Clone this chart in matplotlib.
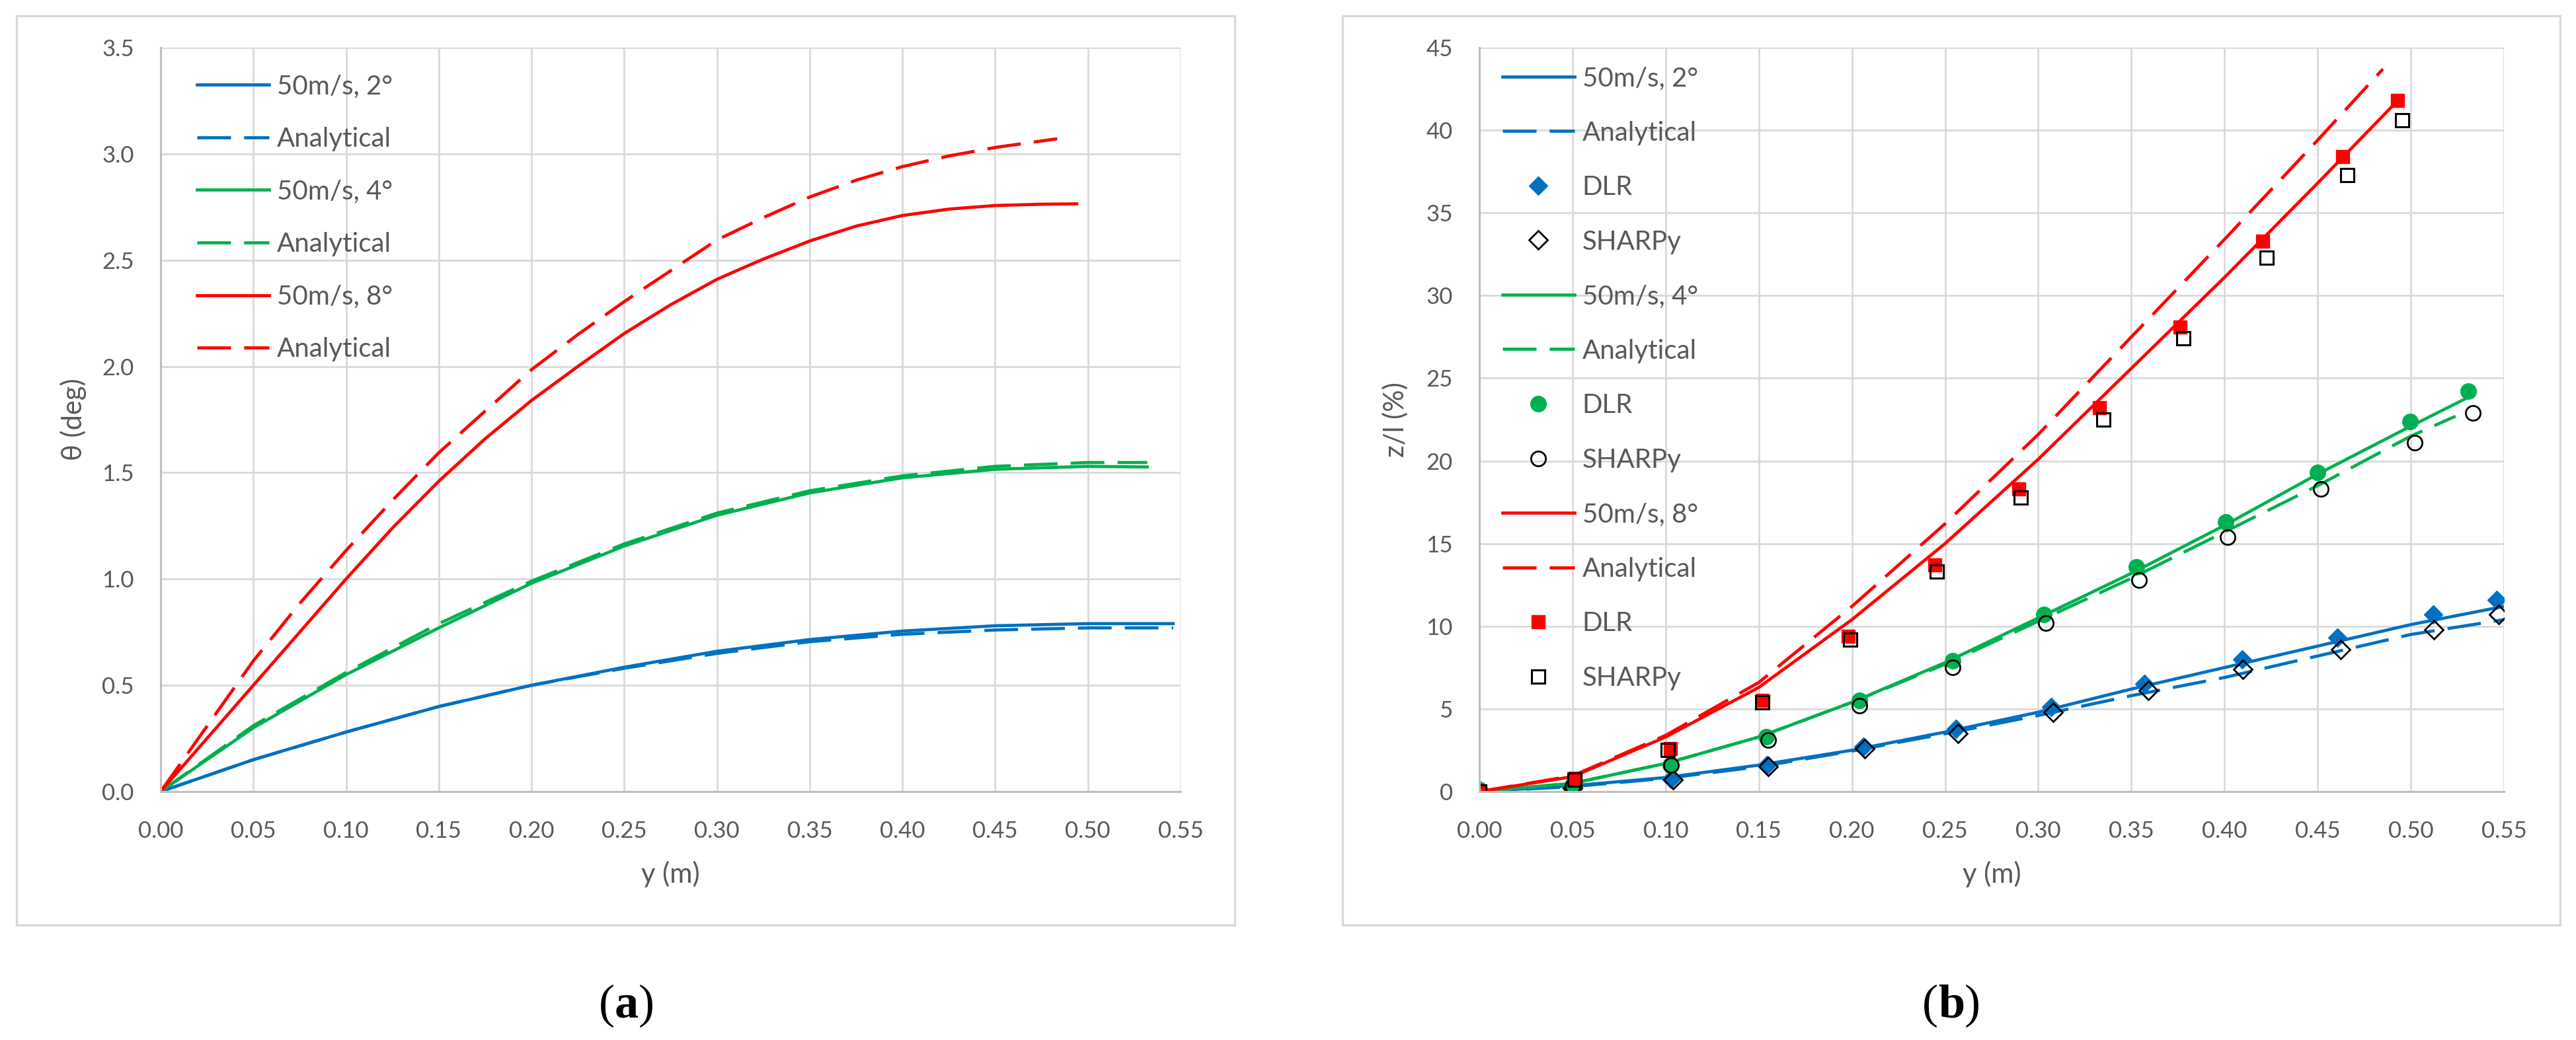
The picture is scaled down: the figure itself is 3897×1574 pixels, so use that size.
import numpy as np
import matplotlib
matplotlib.use("Agg")
import matplotlib.pyplot as plt
from matplotlib.patches import Rectangle
from matplotlib.text import Annotation

plt.rcParams['font.family'] = ['Lato', 'DejaVu Sans']

BLUE = '#0070C0'
GREEN = '#00B050'
RED = '#FF0000'
TXT = '#595959'

# (a) twist angle theta (deg) along span y (m)
y_2 = [0, 0.05, 0.10, 0.15, 0.20, 0.25, 0.30, 0.35, 0.40, 0.45, 0.50, 0.546]
th_2 = [0, 0.15, 0.28, 0.40, 0.50, 0.585, 0.66, 0.715, 0.755, 0.78, 0.79, 0.79]
th_2_an = [0, 0.15, 0.28, 0.40, 0.50, 0.58, 0.65, 0.705, 0.74, 0.76, 0.77, 0.77]

y_4 = [0, 0.05, 0.10, 0.15, 0.20, 0.25, 0.30, 0.35, 0.40, 0.45, 0.50, 0.532]
th_4 = [0, 0.30, 0.55, 0.77, 0.98, 1.155, 1.30, 1.405, 1.476, 1.516, 1.53, 1.527]
th_4_an = [0, 0.31, 0.56, 0.79, 0.99, 1.165, 1.31, 1.415, 1.485, 1.53, 1.548, 1.548]

y_8 = [0, 0.05, 0.075, 0.10, 0.125, 0.15, 0.175, 0.20, 0.225, 0.25, 0.275, 0.30,
       0.325, 0.35, 0.375, 0.40, 0.425, 0.45, 0.475, 0.494]
th_8 = [0, 0.50, 0.75, 1.0, 1.24, 1.46, 1.66, 1.84, 2.0, 2.155, 2.29, 2.41,
        2.505, 2.59, 2.66, 2.71, 2.74, 2.757, 2.763, 2.765]
y_8_an = [0, 0.05, 0.075, 0.10, 0.125, 0.15, 0.175, 0.20, 0.225, 0.25, 0.275, 0.30,
          0.325, 0.35, 0.375, 0.40, 0.425, 0.45, 0.4835]
th_8_an = [0, 0.615, 0.885, 1.134, 1.37, 1.594, 1.79, 1.985, 2.15, 2.305, 2.45, 2.595,
           2.70, 2.797, 2.876, 2.94, 2.99, 3.03, 3.071]

# (b) tip deflection z/l (%) along span y (m)
yb_2 = [0, 0.05, 0.10, 0.15, 0.20, 0.25, 0.30, 0.35, 0.40, 0.45, 0.50, 0.55]
z_2 = [0, 0.35, 0.85, 1.6, 2.5, 3.6, 4.8, 6.2, 7.5, 8.8, 10.1, 11.2]
z_2_an = [0, 0.3, 0.8, 1.5, 2.45, 3.5, 4.6, 5.8, 6.9, 8.2, 9.5, 10.4]
dlr_2_y = [0, 0.05, 0.103, 0.1545, 0.206, 0.256, 0.307, 0.357, 0.4095, 0.4605, 0.512, 0.546]
dlr_2_z = [0.1, 0.3, 0.75, 1.6, 2.7, 3.8, 5.1, 6.5, 8.0, 9.3, 10.7, 11.6]
sh_2_y = [0, 0.05, 0.104, 0.155, 0.207, 0.257, 0.308, 0.359, 0.410, 0.4625, 0.5125, 0.547]
sh_2_z = [0, 0.2, 0.7, 1.5, 2.6, 3.5, 4.8, 6.1, 7.4, 8.6, 9.8, 10.7]

yb_4 = [0, 0.05, 0.10, 0.15, 0.20, 0.25, 0.30, 0.35, 0.40, 0.45, 0.50, 0.530]
z_4 = [0, 0.5, 1.7, 3.3, 5.4, 7.8, 10.5, 13.2, 16.1, 19.2, 22.1, 23.8]
yb_4_an = [0, 0.05, 0.10, 0.15, 0.20, 0.25, 0.30, 0.35, 0.40, 0.45, 0.50, 0.524]
z_4_an = [0, 0.5, 1.7, 3.3, 5.4, 7.7, 10.3, 12.9, 15.7, 18.5, 21.5, 22.7]
dlr_4_y = [0, 0.05, 0.1025, 0.154, 0.204, 0.254, 0.303, 0.3527, 0.4006, 0.450, 0.4995, 0.531]
dlr_4_z = [0.1, 0.4, 1.6, 3.3, 5.5, 7.9, 10.7, 13.6, 16.3, 19.3, 22.4, 24.2]
sh_4_y = [0, 0.05, 0.103, 0.155, 0.204, 0.254, 0.304, 0.354, 0.4017, 0.4518, 0.502, 0.5333]
sh_4_z = [0, 0.3, 1.6, 3.1, 5.2, 7.5, 10.2, 12.8, 15.4, 18.3, 21.1, 22.9]

yb_8 = [0, 0.05, 0.10, 0.15, 0.20, 0.25, 0.30, 0.35, 0.40, 0.45, 0.493]
z_8 = [0, 0.9, 3.3, 6.3, 10.4, 15.0, 20.1, 25.6, 31.1, 36.8, 41.8]
yb_8_an = [0, 0.05, 0.10, 0.15, 0.20, 0.25, 0.30, 0.35, 0.40, 0.45, 0.485]
z_8_an = [0, 0.95, 3.4, 6.6, 11.2, 16.2, 21.6, 27.5, 33.4, 39.4, 43.7]
dlr_8_y = [0, 0.0514, 0.1025, 0.152, 0.198, 0.2445, 0.2896, 0.333, 0.376, 0.4205, 0.4635, 0.493]
dlr_8_z = [0, 0.8, 2.6, 5.5, 9.4, 13.7, 18.3, 23.2, 28.1, 33.3, 38.4, 41.8]
sh_8_y = [0, 0.051, 0.101, 0.152, 0.199, 0.2455, 0.2906, 0.335, 0.378, 0.4227, 0.466, 0.4955]
sh_8_z = [0, 0.7, 2.5, 5.4, 9.2, 13.3, 17.8, 22.5, 27.4, 32.3, 37.3, 40.6]

W, H = 3898, 1574
fig = plt.figure(figsize=(W / 100, H / 100), dpi=100)


def fx(px):
    return px / W


def fy(py):
    return 1 - py / H


# grey chart frames
for x0, x1 in [(25, 1868), (2031, 3873)]:
    fig.add_artist(Rectangle((fx(x0), fy(1400)), fx(x1) - fx(x0), fy(24) - fy(1400),
                             transform=fig.transFigure, fill=False,
                             edgecolor='#d9d9d9', lw=2.4))

ax1 = fig.add_axes([fx(243), fy(1198), fx(1786) - fx(243), fy(72) - fy(1198)])
ax2 = fig.add_axes([fx(2238), fy(1198), fx(3788) - fx(2238), fy(72) - fy(1198)])

lw = 3.4
dash = (10.8, 4.2)

ax1.plot(y_2, th_2, color=BLUE, lw=lw, label='50m/s, 2°')
ax1.plot(y_2, th_2_an, color=BLUE, lw=lw, dashes=dash, label='Analytical')
ax1.plot(y_4, th_4, color=GREEN, lw=lw, label='50m/s, 4°')
ax1.plot(y_4, th_4_an, color=GREEN, lw=lw, dashes=dash, label='Analytical')
ax1.plot(y_8, th_8, color=RED, lw=lw, label='50m/s, 8°')
ax1.plot(y_8_an, th_8_an, color=RED, lw=lw, dashes=dash, label='Analytical')

ax2.plot(yb_2, z_2, color=BLUE, lw=lw, label='50m/s, 2°')
ax2.plot(yb_2, z_2_an, color=BLUE, lw=lw, dashes=dash, label='Analytical')
ax2.plot(dlr_2_y, dlr_2_z, 'D', ms=14, color=BLUE, mec=BLUE, label='DLR')
ax2.plot(sh_2_y, sh_2_z, 'D', ms=14, mfc='none', mec='black', mew=2.0, label='SHARPy')
ax2.plot(yb_4, z_4, color=GREEN, lw=lw, label='50m/s, 4°')
ax2.plot(yb_4_an, z_4_an, color=GREEN, lw=lw, dashes=dash, label='Analytical')
ax2.plot(dlr_4_y, dlr_4_z, 'o', ms=17, color=GREEN, mec=GREEN, label='DLR')
ax2.plot(sh_4_y, sh_4_z, 'o', ms=16, mfc='none', mec='black', mew=2.0, label='SHARPy')
ax2.plot(yb_8, z_8, color=RED, lw=lw, label='50m/s, 8°')
ax2.plot(yb_8_an, z_8_an, color=RED, lw=lw, dashes=dash, label='Analytical')
ax2.plot(dlr_8_y, dlr_8_z, 's', ms=15, color=RED, mec=RED, label='DLR')
ax2.plot(sh_8_y, sh_8_z, 's', ms=15, mfc='none', mec='black', mew=2.2, label='SHARPy')

for ax in (ax1, ax2):
    ax.set_xlim(0, 0.55)
    ax.set_xticks(np.arange(0, 0.551, 0.05))
    ax.xaxis.set_major_formatter(matplotlib.ticker.FormatStrFormatter('%.2f'))
    ax.grid(True, color='#d9d9d9', lw=2.0)
    ax.set_axisbelow(True)
    for s in ('top', 'right'):
        ax.spines[s].set_visible(False)
    for s in ('left', 'bottom'):
        ax.spines[s].set_color('#bfbfbf')
        ax.spines[s].set_linewidth(2.2)
    ax.tick_params(length=0, labelsize=25, labelcolor=TXT)
    ax.tick_params(axis='x', pad=32)
    ax.tick_params(axis='y', pad=29)
    ax.set_xlabel('y (m)', fontsize=30, color=TXT)
    ax.xaxis.set_label_coords(0.5, -0.111)
    ax.xaxis.label.set_va('center')

ax1.set_ylim(0, 3.5)
ax1.set_yticks(np.arange(0, 3.51, 0.5))
ax1.yaxis.set_major_formatter(matplotlib.ticker.FormatStrFormatter('%.1f'))
ax1.set_ylabel('θ (deg)', fontsize=30, color=TXT)
ax1.yaxis.set_label_coords(-0.0855, 0.5)

ax2.set_ylim(0, 45)
ax2.set_yticks(np.arange(0, 46, 5))
ax2.set_ylabel('z/l (%)', fontsize=30, color=TXT)
ax2.yaxis.set_label_coords(-0.082, 0.5)

for ax in (ax1, ax2):
    ax.yaxis.label.set_va('center')
    ax.yaxis.label.set_ha('center')

leg_kw = dict(loc='upper left', bbox_transform=fig.transFigure, frameon=False,
              fontsize=29, labelcolor=TXT, borderpad=0, borderaxespad=0,
              handlelength=2.7, handletextpad=0.3)
ax1.legend(bbox_to_anchor=(fx(298), fy(112)), labelspacing=1.06, **leg_kw)
ax2.legend(bbox_to_anchor=(fx(2273), fy(100)), labelspacing=1.13, **leg_kw)

# sub-figure captions: "(a)" and "(b)" with bold letter
for cx, letter in [(948, 'a'), (2952, 'b')]:
    t = fig.text(fx(cx), fy(1540), letter, fontsize=52, fontweight='bold',
                 family='Liberation Serif', ha='center', va='baseline', color='black')
    for xr, ch, ha in [(0, '(', 'right'), (1, ')', 'left')]:
        fig.add_artist(Annotation(ch, xy=(xr, fy(1540)), xycoords=(t, 'figure fraction'),
                                  fontsize=52, family='Liberation Serif',
                                  ha=ha, va='baseline', color='black'))

fig.savefig('out.png', dpi=100)
